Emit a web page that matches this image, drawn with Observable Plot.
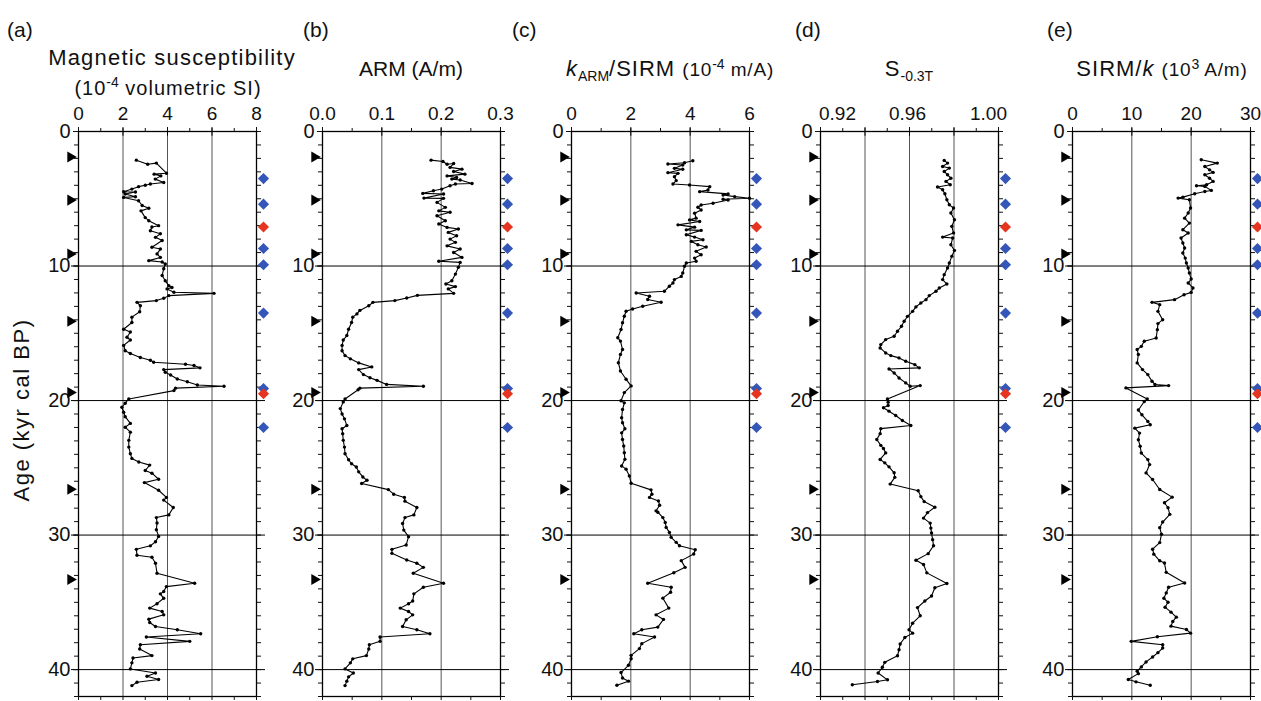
<!DOCTYPE html>
<html><head><meta charset="utf-8">
<script src="https://cdn.jsdelivr.net/npm/d3@7"></script>
<script src="https://cdn.jsdelivr.net/npm/@observablehq/plot@0.6"></script>
<style>
body{margin:0;background:#fff;font-family:"Liberation Sans",Arial,sans-serif;color:#111;}
#chart{position:relative;width:1261px;height:701px;overflow:hidden;background:#fff;}
.pl{position:absolute;font-size:21px;white-space:nowrap;line-height:1;}
.ttl{position:absolute;font-size:22px;letter-spacing:1px;white-space:nowrap;transform:translateX(-50%);line-height:1;}
.sm{font-size:19px;letter-spacing:0.8px;}
.ttl sup,.ttl sub{font-size:14px;line-height:0;letter-spacing:0;}
.panel{position:absolute;}
</style></head><body><div id="chart"></div>
<script>
// ---------------- data: [age (kyr cal BP), value] ----------------
const magSus = [[2.13,2.6],[2.43,3.11],[2.35,3.5],[3.1,3.95],[3.17,3.4],[3.3,3.7],[3.54,3.45],[3.79,3.83],[3.9,3.23],[4.0,3.0],[4.1,2.7],[4.28,2.4],[4.48,2.03],[4.5,2.56],[4.65,2.1],[4.85,2.56],[4.9,2.03],[5.15,2.7],[5.5,2.86],[5.7,3.16],[5.9,2.81],[6.4,3.0],[6.63,3.16],[7.0,3.6],[7.1,3.3],[7.38,3.23],[7.6,3.68],[7.87,3.46],[8.1,3.76],[8.6,3.3],[8.74,3.68],[9.1,3.53],[9.36,3.68],[9.6,3.16],[9.7,3.76],[9.85,3.9],[10.2,3.83],[10.7,3.76],[11.1,3.9],[11.46,4.06],[11.6,4.2],[11.7,3.98],[11.95,4.29],[12.03,6.09],[12.2,4.06],[12.4,3.83],[12.57,3.5],[12.7,2.63],[12.95,2.78],[13.4,2.75],[13.8,2.4],[14.2,2.4],[14.7,2.03],[14.9,2.33],[15.3,2.18],[15.5,2.33],[15.9,2.03],[16.3,2.1],[16.5,2.33],[16.8,2.78],[17.0,3.23],[17.15,3.38],[17.3,4.81],[17.4,5.19],[17.57,5.46],[17.7,3.83],[17.9,3.9],[18.1,4.14],[18.4,4.44],[18.6,4.89],[18.84,5.34],[18.94,6.54],[19.08,4.36],[19.26,4.29],[19.88,2.26],[20.2,2.1],[20.5,1.95],[20.87,2.03],[21.2,2.1],[21.7,2.33],[21.98,2.1],[22.35,2.33],[22.96,2.26],[23.46,2.26],[23.95,2.33],[24.3,2.4],[24.57,2.71],[24.8,3.2],[25.2,3.0],[25.4,3.3],[25.85,3.6],[26.1,2.96],[26.67,3.6],[27.2,3.95],[27.4,3.83],[27.95,4.26],[28.5,4.06],[28.7,3.5],[29.1,3.53],[29.6,3.5],[30.1,3.6],[30.5,3.46],[30.8,3.23],[31.06,2.6],[31.5,2.63],[31.65,3.3],[32.1,3.46],[32.84,3.53],[33.58,5.22],[33.83,3.95],[34.2,3.83],[34.37,3.68],[34.7,3.83],[35.1,3.53],[35.43,3.2],[35.68,3.76],[35.93,3.83],[36.25,3.16],[36.5,3.2],[36.8,3.46],[37.04,4.44],[37.33,5.49],[37.58,3.05],[37.9,5.0],[38.15,2.78],[38.47,2.75],[38.96,3.3],[39.14,2.45],[39.5,2.4],[39.95,2.33],[40.25,3.46],[40.5,3.08],[40.74,3.6],[40.94,2.63],[41.19,2.4]];

const arm = [[2.13,0.183],[2.23,0.203],[2.43,0.21],[2.38,0.221],[2.67,0.215],[2.8,0.235],[2.97,0.221],[3.17,0.24],[3.3,0.21],[3.42,0.226],[3.54,0.218],[3.6,0.232],[3.86,0.252],[3.9,0.224],[4.03,0.215],[4.28,0.201],[4.4,0.187],[4.6,0.169],[4.65,0.204],[4.95,0.171],[4.97,0.204],[5.27,0.193],[5.64,0.207],[5.9,0.196],[6.0,0.215],[6.26,0.193],[6.63,0.207],[6.88,0.196],[7.13,0.21],[7.25,0.229],[7.5,0.212],[7.75,0.226],[8.0,0.215],[8.24,0.224],[8.5,0.21],[8.74,0.232],[8.99,0.221],[9.36,0.235],[9.65,0.196],[9.73,0.232],[10.1,0.229],[10.6,0.224],[11.1,0.218],[11.34,0.208],[11.53,0.224],[11.7,0.212],[12.03,0.221],[12.18,0.16],[12.38,0.142],[12.57,0.122],[12.7,0.085],[12.95,0.078],[13.3,0.063],[13.56,0.058],[13.8,0.051],[14.2,0.049],[14.7,0.044],[15.17,0.041],[15.5,0.035],[15.9,0.033],[16.3,0.033],[16.66,0.038],[16.9,0.047],[17.2,0.061],[17.5,0.083],[17.7,0.061],[18.07,0.069],[18.3,0.08],[18.5,0.092],[18.8,0.108],[18.94,0.17],[19.08,0.063],[19.2,0.06],[19.88,0.038],[20.1,0.035],[20.6,0.03],[21.0,0.033],[21.36,0.037],[21.85,0.041],[22.1,0.033],[22.47,0.034],[22.96,0.035],[23.46,0.037],[23.95,0.038],[24.4,0.044],[24.7,0.049],[24.94,0.057],[25.3,0.061],[25.68,0.068],[25.93,0.075],[26.17,0.066],[26.62,0.111],[26.96,0.12],[27.2,0.138],[27.48,0.139],[27.95,0.159],[28.5,0.154],[28.7,0.139],[29.14,0.135],[29.63,0.137],[30.12,0.145],[30.74,0.141],[31.06,0.117],[31.36,0.117],[31.85,0.142],[32.1,0.159],[32.4,0.17],[32.84,0.153],[33.58,0.204],[33.88,0.17],[34.37,0.154],[34.9,0.152],[35.1,0.145],[35.43,0.131],[35.68,0.145],[35.93,0.152],[36.3,0.141],[36.8,0.135],[37.04,0.159],[37.33,0.181],[37.58,0.097],[37.9,0.097],[38.15,0.079],[38.47,0.078],[38.96,0.074],[39.2,0.051],[39.5,0.047],[39.95,0.038],[40.25,0.052],[40.54,0.044],[40.86,0.041],[41.19,0.038]];

const karmSirm = [[2.17,4.09],[2.32,3.81],[2.42,3.25],[2.49,3.75],[2.74,3.47],[2.81,3.75],[3.06,3.25],[3.11,3.59],[3.36,3.47],[3.65,3.53],[3.9,3.42],[3.98,3.98],[4.1,4.66],[4.35,4.6],[4.47,4.32],[4.64,5.28],[4.72,5.11],[4.84,5.5],[4.96,6.0],[5.04,5.11],[5.09,5.28],[5.33,4.77],[5.46,4.37],[5.63,4.26],[5.83,4.37],[6.07,4.15],[6.44,4.2],[6.57,3.98],[6.69,4.32],[6.94,3.59],[7.11,4.15],[7.31,3.87],[7.35,4.37],[7.68,3.87],[7.85,4.15],[8.05,4.43],[8.17,4.04],[8.42,4.26],[8.59,4.54],[8.91,4.2],[9.16,4.37],[9.41,4.15],[9.65,4.2],[9.78,3.87],[10.02,3.81],[10.52,3.75],[10.77,3.7],[11.01,3.47],[11.26,3.42],[11.5,3.3],[11.88,3.13],[12.0,2.18],[12.25,2.63],[12.49,2.57],[12.69,3.02],[12.99,2.4],[13.19,2.06],[13.36,1.84],[13.73,1.78],[14.22,1.72],[14.72,1.67],[15.33,1.56],[15.58,1.65],[16.2,1.72],[16.57,1.65],[17.19,1.58],[17.8,1.65],[18.42,1.84],[18.91,2.01],[19.41,1.78],[20.02,1.67],[20.17,1.78],[20.67,1.72],[21.28,1.69],[21.65,1.72],[22.1,1.8],[22.4,1.69],[22.9,1.72],[23.38,1.76],[23.88,1.78],[24.37,1.8],[24.86,1.69],[25.1,1.84],[25.6,1.95],[26.15,2.01],[26.64,2.68],[26.96,2.71],[27.2,2.63],[27.46,2.93],[27.78,2.97],[28.2,2.85],[28.3,2.91],[28.7,3.08],[29.06,3.16],[29.43,3.19],[29.8,3.3],[30.17,3.36],[30.54,3.53],[30.79,3.64],[31.09,4.17],[31.41,4.12],[31.9,3.7],[32.4,3.83],[32.8,3.45],[33.58,2.57],[33.88,3.36],[34.25,3.34],[34.69,3.08],[35.43,3.28],[35.93,2.85],[36.27,3.1],[36.84,2.91],[37.04,2.37],[37.33,2.1],[37.58,2.8],[38.07,2.37],[38.44,2.29],[38.94,2.01],[39.19,2.01],[39.68,1.92],[40.22,1.67],[40.62,1.72],[40.86,1.92],[41.16,1.53]];

const sRatio = [[2.15,0.9756],[2.35,0.9771],[2.6,0.9749],[2.72,0.9779],[2.97,0.9756],[3.22,0.9771],[3.47,0.9786],[3.71,0.9764],[3.96,0.9783],[4.13,0.9726],[4.33,0.9749],[4.63,0.9759],[5.07,0.9768],[5.45,0.9779],[5.69,0.9798],[6.06,0.9786],[6.56,0.9802],[7.05,0.979],[7.55,0.9798],[7.85,0.9749],[7.92,0.9794],[8.42,0.9786],[8.84,0.9802],[9.28,0.979],[9.78,0.9779],[10.15,0.9771],[10.64,0.9756],[11.01,0.9749],[11.34,0.9768],[11.63,0.9734],[11.88,0.9719],[12.2,0.9689],[12.5,0.9674],[12.75,0.9651],[13.04,0.9629],[13.37,0.9614],[13.74,0.9591],[14.11,0.9576],[14.48,0.9564],[14.85,0.9546],[15.22,0.9531],[15.47,0.9493],[15.84,0.9471],[16.09,0.9468],[16.46,0.9493],[16.66,0.9516],[16.83,0.9553],[17.08,0.9583],[17.33,0.9624],[17.57,0.9644],[17.65,0.9508],[17.95,0.9531],[18.32,0.9553],[18.69,0.9583],[18.94,0.9603],[18.89,0.9648],[19.88,0.9501],[20.12,0.9504],[20.37,0.9504],[20.54,0.9483],[20.79,0.9508],[21.11,0.9538],[21.48,0.9568],[21.85,0.9606],[22.09,0.9471],[22.46,0.9468],[22.9,0.9453],[23.33,0.9471],[23.57,0.9483],[23.89,0.9493],[24.38,0.9468],[24.63,0.9489],[24.93,0.9508],[25.37,0.9531],[25.71,0.9534],[26.21,0.9513],[26.7,0.9639],[27.14,0.9651],[27.51,0.9666],[27.93,0.9714],[28.33,0.9681],[28.74,0.9663],[29.11,0.9693],[29.48,0.9696],[29.85,0.9699],[30.34,0.9704],[30.79,0.9708],[31.38,0.9684],[31.87,0.9629],[32.19,0.9663],[32.81,0.9678],[33.6,0.9768],[33.92,0.9714],[34.53,0.9699],[34.9,0.9669],[35.39,0.9636],[36.0,0.9648],[36.55,0.9614],[37.04,0.9598],[37.29,0.9614],[37.61,0.9579],[38.1,0.9558],[38.52,0.9553],[38.97,0.9546],[39.46,0.9489],[39.83,0.9478],[40.25,0.9459],[40.76,0.9501],[40.89,0.9456],[41.13,0.9343]];

const sirmK = [[2.1,21.7],[2.35,24.4],[2.6,22.3],[2.85,23.1],[3.04,23.7],[3.22,22.3],[3.47,23.1],[3.71,23.7],[3.96,22.6],[4.03,20.9],[4.08,22.3],[4.38,23.4],[4.46,22.3],[4.63,20.6],[4.88,18.6],[4.95,17.8],[5.07,19.7],[5.69,19.9],[6.06,19.5],[6.44,18.9],[6.81,19.7],[7.3,18.6],[7.55,19.5],[7.92,18.3],[8.29,18.6],[8.66,18.9],[9.03,18.6],[9.41,19.0],[9.78,19.2],[10.15,19.5],[10.52,19.7],[10.97,20.0],[11.26,19.5],[11.63,20.3],[11.96,20.0],[12.13,18.8],[12.5,17.2],[12.7,13.4],[12.87,14.7],[13.37,14.4],[13.99,15.2],[14.28,14.4],[14.73,14.3],[15.35,14.1],[15.59,12.1],[15.97,11.6],[16.21,10.9],[16.58,11.1],[17.2,10.9],[17.7,11.8],[18.07,12.7],[18.56,13.4],[18.81,13.9],[18.89,16.2],[19.06,9.0],[19.88,12.6],[20.07,12.1],[20.7,11.1],[21.06,11.7],[21.55,12.7],[21.8,13.1],[22.05,10.5],[22.42,11.3],[22.91,11.1],[23.4,11.4],[23.9,11.6],[24.39,12.7],[24.76,13.0],[25.38,12.4],[25.87,13.5],[26.61,14.7],[27.18,16.8],[27.6,15.5],[27.97,16.1],[28.46,16.4],[29.03,15.2],[29.45,14.7],[29.94,15.0],[30.56,14.7],[31.05,13.5],[31.42,13.7],[31.91,14.7],[32.08,15.5],[32.77,15.8],[33.56,18.9],[33.88,16.2],[34.3,15.8],[34.7,15.4],[34.99,16.1],[35.36,15.6],[35.73,16.6],[36.1,17.5],[36.42,16.9],[36.77,16.6],[37.02,19.2],[37.29,19.9],[37.56,14.3],[37.9,9.9],[38.15,15.2],[38.4,15.2],[38.74,14.4],[39.06,13.5],[39.43,12.4],[39.8,11.6],[40.12,10.9],[40.3,11.1],[40.74,9.4],[40.91,10.7],[41.16,13.1]];

// age-model tie points (left triangles) and dated levels (right diamonds)
const triangleAges = [1.9, 5.1, 9.1, 14.1, 19.4, 26.6, 33.3];
const blueDiamondAges = [3.5, 5.4, 8.7, 9.9, 13.5, 19.1, 22.0];
const redDiamondAges = [7.1, 19.5];

// axis ticks
const ageMajor = [0, 10, 20, 30, 40];
const ageMinor = d3.range(0, 43, 1);

// ---------------- layout ----------------
const PW = 178, PH = 565, TOP = 131;
const ML = 50, MR = 20, MT = 36, MB = 8;

const panels = [
  {data: magSus, domain: [0, 8], major: [0,2,4,6,8], labels: [0,2,4,6,8], minor: d3.range(0, 8.01, 1), grid: [2,4,6], fmt: d => String(d), left: 78},
  {data: arm, domain: [0, 0.3], major: [0,0.1,0.2,0.3], labels: [0,0.1,0.2,0.3], minor: d3.range(0, 0.301, 0.05), grid: [0.1,0.2], fmt: d => d.toFixed(1), left: 322},
  {data: karmSirm, domain: [0, 6], major: [0,2,4,6], labels: [0,2,4,6], minor: d3.range(0, 6.01, 1), grid: [2,4], fmt: d => String(d), left: 571},
  {data: sRatio, domain: [0.92, 1.0], major: [0.92,0.94,0.96,0.98,1.0], labels: [0.92,0.96,1.0], labelShift: [17, -2, -10], minor: d3.range(0.92, 1.0001, 0.01), grid: [0.94,0.96,0.98], fmt: d => d.toFixed(2), left: 820},
  {data: sirmK, domain: [0, 30], major: [0,10,20,30], labels: [0,10,20,30], minor: d3.range(0, 30.01, 5), grid: [10,20], fmt: d => String(d), left: 1072}
];

const chart = document.getElementById("chart");
const blank = () => "";

panels.forEach((p) => {
  const [x0, x1] = p.domain;
  const rows = p.data.map(([age, v]) => ({age, v}));
  const labelMarks = p.labels.map((v, i) =>
    Plot.axisX([v], {anchor: "top", tickSize: 0, tickPadding: 12, tickFormat: p.fmt, fontSize: 19, label: null,
                     dx: p.labelShift ? p.labelShift[i] : 0}));
  const marks = [
    Plot.ruleX(p.grid, {stroke: "#555", strokeWidth: 1}),
    Plot.ruleY([10, 20, 30, 40], {stroke: "#000", strokeWidth: 1, insetLeft: -7, insetRight: -9}),
    Plot.frame({stroke: "#000", strokeWidth: 1.3}),
    Plot.axisX(p.major, {anchor: "top", tickSize: 5, tickFormat: blank, label: null}),
    ...labelMarks,
    Plot.axisX(p.minor, {anchor: "top", tickSize: 4, tickFormat: blank, label: null}),
    Plot.ruleX(p.major, {y1: 0, y2: 0.35, stroke: "#000"}),
    Plot.axisX(p.minor, {anchor: "bottom", tickSize: 4, tickFormat: blank, label: null}),
    Plot.axisY(ageMajor, {anchor: "left", tickSize: 5, tickPadding: 3, fontSize: 20, label: null}),
    Plot.axisY(ageMinor, {anchor: "left", tickSize: 4, tickFormat: blank, label: null}),
    Plot.axisY(ageMinor, {anchor: "right", tickSize: 4, tickFormat: blank, label: null}),
    Plot.line(rows, {x: "v", y: "age", stroke: "#000", strokeWidth: 1.1}),
    Plot.dot(rows, {x: "v", y: "age", r: 1.7, fill: "#000"}),
    Plot.dot(triangleAges, {x: () => x0, y: d => d, symbol: "triangle", rotate: 90, r: 4.1, fill: "#000", dx: -8}),
    Plot.dot(blueDiamondAges, {x: () => x1, y: d => d, symbol: "diamond2", r: 5, fill: "#3356b8", dx: 7}),
    Plot.dot(redDiamondAges, {x: () => x1, y: d => d, symbol: "diamond2", r: 5, fill: "#e5341f", dx: 7})
  ];
  const svg = Plot.plot({
    width: ML + PW + MR, height: MT + PH + MB,
    marginLeft: ML, marginRight: MR, marginTop: MT, marginBottom: MB,
    style: {fontFamily: "Liberation Sans, Arial, sans-serif", color: "#111", background: "transparent", overflow: "visible"},
    x: {domain: p.domain, label: null},
    y: {domain: [0, 42], reverse: true, label: null},
    marks
  });
  svg.classList.add("panel");
  svg.style.left = (p.left - ML) + "px";
  svg.style.top = (TOP - MT) + "px";
  chart.appendChild(svg);
});

// ---------------- text ----------------
function addDiv(cls, html, x, y, extra) {
  const d = document.createElement("div");
  d.className = cls;
  d.innerHTML = html;
  d.style.left = x + "px";
  d.style.top = y + "px";
  if (extra) Object.assign(d.style, extra);
  chart.appendChild(d);
}
addDiv("pl", "(a)", 7, 19);
addDiv("pl", "(b)", 303, 19);
addDiv("pl", "(c)", 512, 19);
addDiv("pl", "(d)", 795, 19);
addDiv("pl", "(e)", 1047, 19);

addDiv("ttl", "Magnetic susceptibility", 172, 47, {fontSize: "22px", letterSpacing: "1.2px"});
addDiv("ttl", "(10<sup>-4</sup> volumetric SI)", 168, 78, {fontSize: "20px", letterSpacing: "1px"});
addDiv("ttl", "ARM (A/m)", 411, 58, {fontSize: "21px", letterSpacing: "0px"});
addDiv("ttl", "<i>k</i><sub>ARM</sub>/SIRM <span class='sm'>(10<sup>-4</sup> m/A)</span>", 670, 58);
addDiv("ttl", "S<sub>-0.3T</sub>", 909, 58);
addDiv("ttl", "SIRM/<i>k</i> <span class='sm'>(10<sup>3</sup> A/m)</span>", 1162, 58);

addDiv("pl", "Age (kyr cal BP)", 22, 410, {fontSize: "22px", letterSpacing: "1.5px", transform: "translate(-50%,-50%) rotate(-90deg)"});
</script>
</body></html>
